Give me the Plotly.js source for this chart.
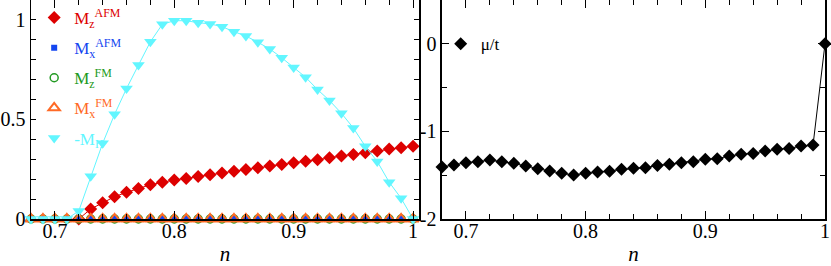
<!DOCTYPE html>
<html><head><meta charset="utf-8">
<script src="https://cdn.plot.ly/plotly-3.0.1.min.js"></script>
<style>html,body{margin:0;padding:0;background:#fff}</style>
</head><body><div id="chart" style="width:831px;height:266px"></div>
<script>
// filling n
const n = [0.68,0.69,0.70,0.71,0.72,0.73,0.74,0.75,0.76,0.77,0.78,0.79,0.80,0.81,0.82,0.83,0.84,0.85,0.86,0.87,0.88,0.89,0.90,0.91,0.92,0.93,0.94,0.95,0.96,0.97,0.98,0.99,1.00];
// left panel series
const MzAFM = [null,null,null,null,0,0.05,0.081,0.112,0.134,0.153,0.172,0.184,0.196,0.204,0.214,0.222,0.231,0.24,0.249,0.257,0.266,0.274,0.282,0.29,0.297,0.308,0.316,0.324,0.333,0.341,0.351,0.358,0.366];
const MxAFM = [0,0,0,0,0,0,0,0,0,0,0,0,0,0,0,0,0,0,0,0,0,0,0,0,0,0,0,0,0,0,0,0,0];
const MzFM  = [0,0,0,0,0,0,0,0,0,0,0,0,0,0,0,0,0,0,0,0,0,0,0,0,0,0,0,0,0,0,0,0,0];
const MxFM  = [0,0,0,0,0,0,0,0,0,0,0,0,0,0,0,0,0,0,0,0,0,0,0,0,0,0,0,0,0,0,0,0,0];
const negMH = [0,0,0,0,0.04,0.215,0.38,0.526,0.655,0.773,0.89,0.978,0.996,0.996,0.986,0.98,0.966,0.941,0.919,0.888,0.854,0.81,0.761,0.712,0.65,0.595,0.531,0.457,0.365,0.289,0.185,0.104,0];
// right panel series
const muT = [-1.407,-1.384,-1.357,-1.346,-1.327,-1.346,-1.365,-1.395,-1.426,-1.452,-1.479,-1.498,-1.479,-1.464,-1.456,-1.433,-1.422,-1.414,-1.388,-1.376,-1.357,-1.346,-1.319,-1.312,-1.281,-1.262,-1.251,-1.224,-1.205,-1.194,-1.167,-1.156,0];
// tick labels
const leftYTicks = [0,0.5,1];
const leftYText = ['0','0.5','1'];
const rightYTicks = [-2,-1,0];
const rightYText = ['-2','-1','0'];

const C = {red:'#dd0000', blue:'#1446f0', green:'#229a22', orange:'#ff6a26', cyan:'#62f6ff'};
const FONT = 'Liberation Serif';

function lineTrace(y, color, group, xa, ya){
  return {x:n, y:y, mode:'lines', line:{color:color, width:1}, showlegend:false,
          legendgroup:group, xaxis:xa||'x', yaxis:ya||'y', hoverinfo:'skip', cliponaxis:false};
}
function markTrace(y, name, sym, size, color, lineColor, lw, group, xa, ya, leg){
  return {x:n, y:y, mode:'markers', name:name, legendgroup:group, xaxis:xa||'x', yaxis:ya||'y',
          marker:{symbol:sym, size:size, color:color, line:{color:lineColor, width:lw}},
          cliponaxis:false, legend:leg||'legend'};
}
const data = [
  lineTrace(MzAFM, C.red, 'a'),
  markTrace(MzAFM, '<span style="color:'+C.red+'">M<sub>z</sub><sup>AFM</sup></span>', 'diamond', 10, C.red, C.red, 0, 'a'),
  markTrace(MxAFM, '<span style="color:'+C.blue+'">M<sub>x</sub><sup>AFM</sup></span>', 'square', 6, C.blue, C.blue, 0, 'b'),
  markTrace(MzFM, '<span style="color:'+C.green+'">M<sub>z</sub><sup>FM</sup></span>', 'circle-open', 8, C.green, C.green, 1.5, 'c'),
  markTrace(MxFM, '<span style="color:'+C.orange+'">M<sub>x</sub><sup>FM</sup></span>', 'triangle-up-open', 10, C.orange, C.orange, 2, 'd'),
  lineTrace(negMH, C.cyan, 'e'),
  markTrace(negMH, '<span style="color:'+C.cyan+'">-M<sub>H</sub></span>', 'triangle-down', 11, C.cyan, C.cyan, 0, 'e'),
  lineTrace(muT, '#000', 'f', 'x2', 'y2'),
  markTrace(muT, 'μ/t', 'diamond', 10, '#000', '#000', 0, 'f', 'x2', 'y2', 'legend2')
];

const axBase = {showline:true, linecolor:'#000', linewidth:1.5, mirror:'ticks', ticks:'inside',
  tickcolor:'#000', tickwidth:1, showgrid:false, zeroline:false,
  tickfont:{family:FONT, size:20, color:'#000'}};

const layout = {
  width:831, height:266, margin:{l:31, r:6, t:0, b:47},
  paper_bgcolor:'#fff', plot_bgcolor:'#fff', showlegend:true,
  font:{family:FONT, color:'#000', size:16},
  xaxis: Object.assign({}, axBase, {domain:[0,0.4887], range:[0.68,1.005], dtick:0.1, tick0:0.7, ticklen:8,
    ticklabelposition:'outside', ticklabelstandoff:-7,
    minor:{dtick:0.02, tick0:0.68, ticklen:5, ticks:'inside', tickcolor:'#000', tickwidth:1},
    title:{text:'<i>n</i>', font:{family:FONT, size:21, color:'#000'}, standoff:9}}),
  yaxis: Object.assign({}, axBase, {range:[0,1.1], tickmode:'array', tickvals:leftYTicks, ticktext:leftYText, ticklen:5,
    minor:{dtick:0.1, tick0:0, ticklen:5, ticks:'inside', tickcolor:'#000', tickwidth:1}}),
  xaxis2: Object.assign({}, axBase, {domain:[0.5176,1], range:[0.68,1.0], dtick:0.1, tick0:0.7, ticklen:8, anchor:'y2',
    ticklabelposition:'outside', ticklabelstandoff:-7,
    minor:{dtick:0.02, tick0:0.68, ticklen:5, ticks:'inside', tickcolor:'#000', tickwidth:1},
    title:{text:'<i>n</i>', font:{family:FONT, size:21, color:'#000'}, standoff:9}}),
  yaxis2: Object.assign({}, axBase, {range:[-2,0.5], anchor:'x2', tickmode:'array', tickvals:rightYTicks, ticktext:rightYText, ticklen:7,
    minor:{tickmode:'array', tickvals:[-1.5,-0.5], ticklen:5, ticks:'inside', tickcolor:'#000', tickwidth:1}}),
  legend:{x:0.004, y:1.0, xanchor:'left', yanchor:'top', bgcolor:'rgba(0,0,0,0)', borderwidth:0,
    font:{family:FONT, size:17}, traceorder:'grouped', tracegroupgap:5},
  legend2:{x:0.516, y:0.88, xanchor:'left', yanchor:'top', bgcolor:'rgba(0,0,0,0)', borderwidth:0,
    font:{family:FONT, size:17, color:'#000'}}
};
Plotly.newPlot('chart', data, layout, {displayModeBar:false, staticPlot:true});
</script></body></html>
